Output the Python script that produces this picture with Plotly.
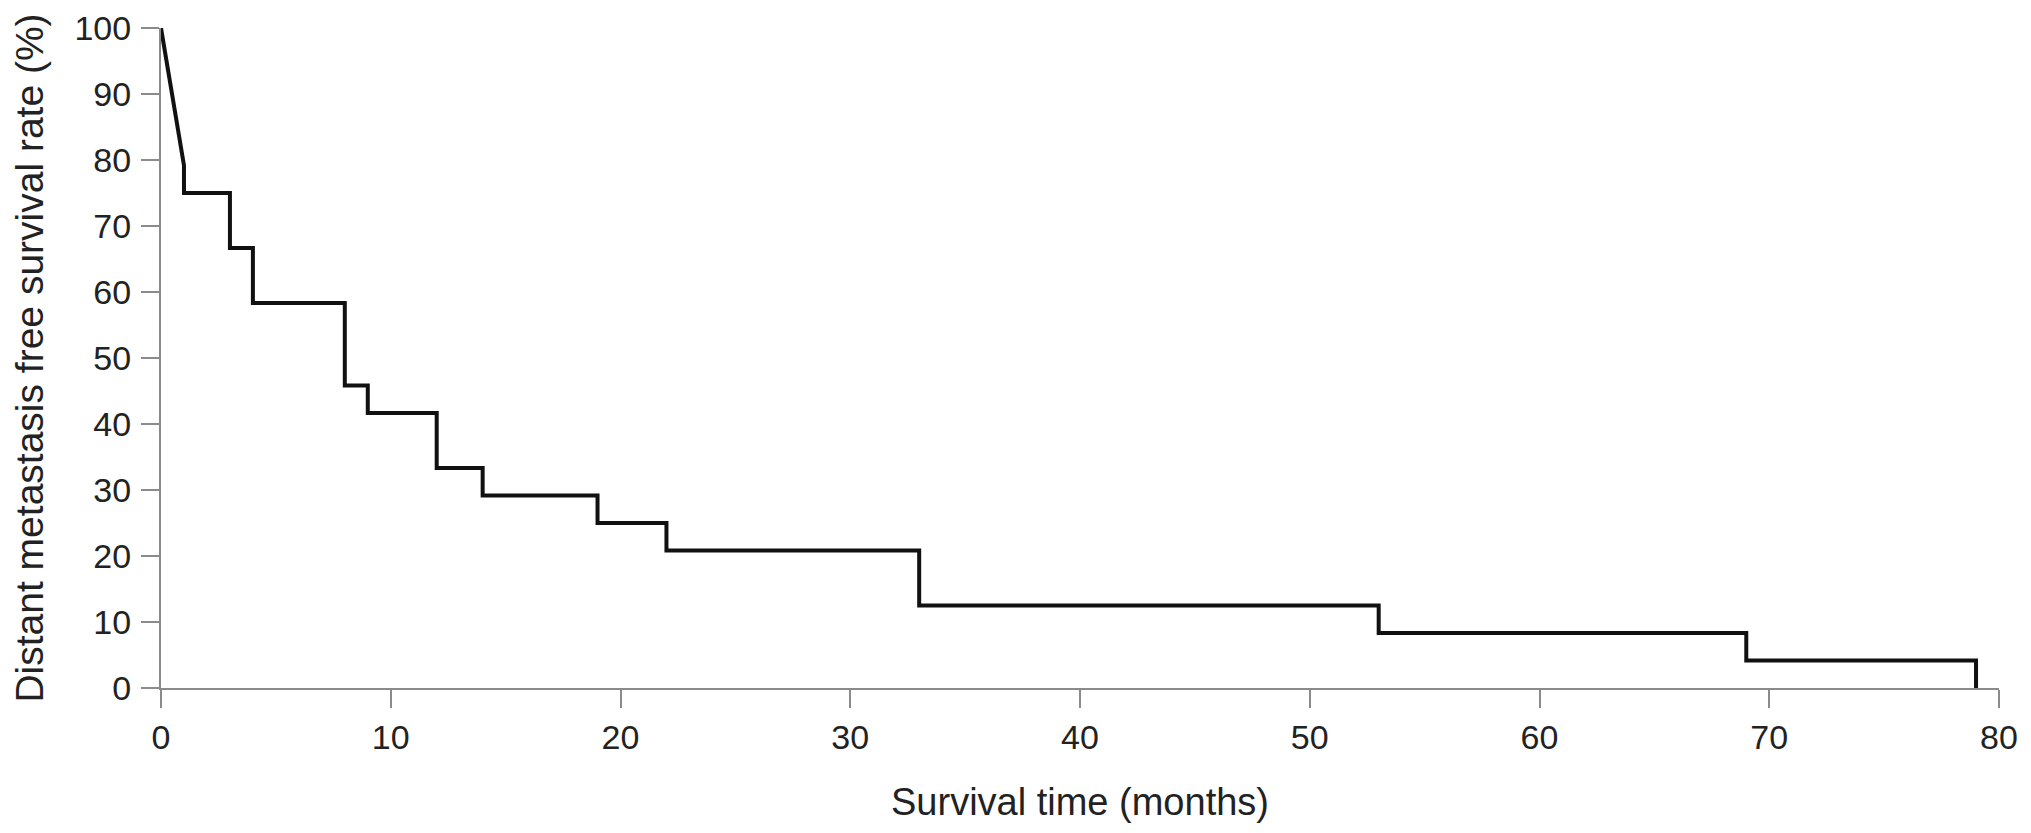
import plotly.graph_objects as go

# Kaplan-Meier data (months, % surviving after each event)
start_time = 0
start_survival = 100.0
first_drop_time = 1
first_drop_level = 79.17   # end of initial sloped segment
event_times = [1, 3, 4, 8, 9, 12, 14, 19, 22, 33, 53, 69, 79]
survival_after = [75.0, 66.67, 58.33, 45.83, 41.67, 33.33, 29.17, 25.0, 20.83, 12.5, 8.33, 4.17, 0.0]

x_ticks = [0, 10, 20, 30, 40, 50, 60, 70, 80]
y_ticks = [0, 10, 20, 30, 40, 50, 60, 70, 80, 90, 100]

# build the step path from the data
xs = [start_time, first_drop_time]
ys = [start_survival, first_drop_level]
prev = first_drop_level
for t, s in zip(event_times, survival_after):
    xs += [t, t]
    ys += [prev, s]
    prev = s

fig = go.Figure()
fig.add_trace(go.Scatter(x=xs, y=ys, mode="lines",
                         line=dict(color="#111111", width=4),
                         showlegend=False, hoverinfo="skip"))

axis_common = dict(
    showgrid=False, zeroline=False, showline=True,
    linecolor="#8a8a8a", linewidth=2,
    ticks="outside", ticklen=18, tickwidth=2, tickcolor="#8a8a8a",
    ticklabeloverflow="allow", automargin=False,
    tickfont=dict(family="Liberation Sans, Arial, sans-serif", size=34, color="#222222"),
)

# page body has an 8px default margin, so the figure is sized to fit inside it
fig.update_layout(
    width=2023, height=825,
    margin=dict(l=153, r=32, t=20, b=145),
    paper_bgcolor="white", plot_bgcolor="white",
    font=dict(family="Liberation Sans, Arial, sans-serif", color="#222222"),
    xaxis=dict(range=[0, 80], tickvals=x_ticks,
               title=dict(text="Survival time (months)", font=dict(size=38), standoff=34),
               **axis_common),
    yaxis=dict(range=[0, 100], tickvals=y_ticks, ticklabelstandoff=3,
               title=dict(text="Distant metastasis free survival rate (%)", font=dict(size=39), standoff=29),
               **axis_common),
)

fig.write_html("out.html")
